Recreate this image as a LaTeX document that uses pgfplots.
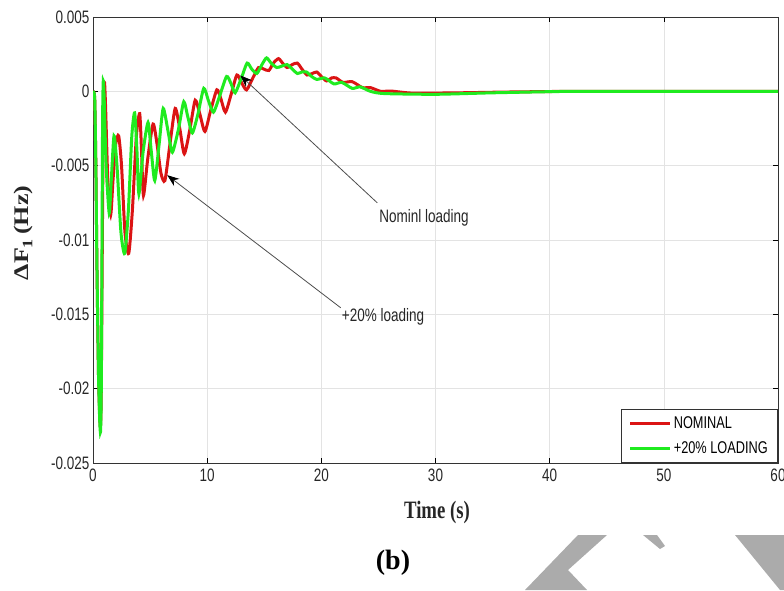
\documentclass[border=0pt]{standalone}
\usepackage{fontspec}
\usepackage{pgfplots}
\pgfplotsset{compat=1.18}
\usetikzlibrary{arrows.meta}
\newfontfamily\condsans{Liberation Sans}[FakeStretch=0.75]
\newfontfamily\condserif{Liberation Serif}[FakeStretch=0.75]
\newfontfamily\serifb{Liberation Serif}
\definecolor{cred}{rgb}{0.86,0.08,0.08}
\definecolor{cgreen}{rgb}{0.12,0.92,0.12}
\definecolor{wm}{rgb}{0.67,0.67,0.67}
\begin{document}
\begin{tikzpicture}[x=1pt,y=1pt]
\begin{axis}[
  at={(93pt,127pt)}, anchor=south west,
  scale only axis, width=685pt, height=446pt,
  xmin=0, xmax=60, ymin=-0.025, ymax=0.005,
  xtick={0,10,20,30,40,50,60},
  xticklabels={0,10,20,30,40,50,60},
  ytick={-0.025,-0.02,-0.015,-0.01,-0.005,0,0.005},
  yticklabels={-0.025,-0.02,-0.015,-0.01,-0.005,0,0.005},
  scaled y ticks=false,
  tick align=inside,
  major tick length=5pt,
  tick style={black, line width=0.6pt},
  ticklabel style={font=\condsans\fontsize{18}{20}\selectfont, text=black!85},
  xticklabel style={yshift=-2pt},
  grid=major,
  grid style={gray!22, line width=0.6pt},
  axis line style={black!80, line width=0.8pt},
  legend style={at={(1,0)}, anchor=south east, draw=black!80, line width=0.6pt,
    font=\condsans\fontsize{17}{19}\selectfont, row sep=7pt, inner xsep=8pt, inner ysep=6pt},
  legend cell align=left,
  legend image code/.code={\draw[#1] (0pt,0pt) -- (40pt,0pt);},
]
\addplot[cred, line width=3pt, smooth, tension=0.4] coordinates {
(0,0)(0.15,-0.0005)(0.25,-0.005)(0.35,-0.012)(0.48,-0.019)(0.6,-0.0221)(0.66,-0.0225)(0.72,-0.0205)(0.8,-0.012)(0.9,-0.002)(1.0,0.0006)(1.1,-0.001)(1.3,-0.006)(1.55,-0.0083)(1.75,-0.006)(2.0,-0.0035)(2.25,-0.0030)(2.5,-0.005)(2.8,-0.0095)(3.13,-0.0109)(3.45,-0.008)(3.8,-0.003)(4.09,-0.0015)(4.25,-0.004)(4.42,-0.0070)(4.8,-0.0045)(5.26,-0.0022)(5.6,-0.0035)(5.95,-0.0055)(6.3,-0.0060)(6.75,-0.0035)(7.2,-0.00115)(7.6,-0.0025)(8.0,-0.0042)(8.5,-0.0025)(8.95,-0.0006)(9.35,-0.0015)(9.8,-0.0027)(10.3,-0.0013)(10.85,0.0001)(11.2,-0.0005)(11.6,-0.0014)(12.1,-0.0002)(12.6,0.0011)(13.0,0.0006)(13.45,0.0001)(14.0,0.0009)(14.5,0.0016)(14.95,0.0015)(15.4,0.0014)(15.8,0.0019)(16.25,0.0022)(16.6,0.0019)(17.0,0.0016)(17.45,0.0018)(17.9,0.0019)(18.3,0.0015)(18.75,0.0011)(19.2,0.0012)(19.6,0.0013)(20.0,0.0010)(20.45,0.0007)(20.9,0.0009)(21.3,0.0009)(21.9,0.0006)(22.7,0.00065)(23.6,0.00025)(24.3,0.00025)(25.2,0.0)(26.1,0.00002)(28,-0.00012)(32,-0.0001)(36,-0.00005)(42,0)(50,0)(60,0)
};
\addlegendentry{NOMINAL}
\addplot[cgreen, line width=3pt, smooth, tension=0.4] coordinates {
(0,0)(0.15,-0.0005)(0.25,-0.005)(0.35,-0.012)(0.48,-0.019)(0.59,-0.0222)(0.66,-0.0229)(0.72,-0.0205)(0.78,-0.012)(0.84,-0.002)(0.9,0.0007)(0.98,-0.0005)(1.15,-0.005)(1.42,-0.0082)(1.6,-0.006)(1.84,-0.003)(2.1,-0.005)(2.45,-0.0095)(2.78,-0.0109)(3.1,-0.008)(3.4,-0.003)(3.65,-0.00145)(3.85,-0.004)(4.02,-0.0069)(4.4,-0.004)(4.82,-0.0021)(5.1,-0.004)(5.41,-0.0060)(5.8,-0.0035)(6.15,-0.00115)(6.6,-0.0028)(6.95,-0.0041)(7.5,-0.0025)(7.95,-0.0007)(8.3,-0.0017)(8.7,-0.0028)(9.2,-0.0015)(9.7,0.0002)(10.1,-0.0006)(10.55,-0.0014)(11.1,-0.0003)(11.7,0.0010)(12.1,0.0005)(12.45,-0.0001)(13.0,0.0009)(13.5,0.0019)(13.9,0.0015)(14.35,0.0012)(14.8,0.0018)(15.2,0.00225)(15.6,0.0019)(16.1,0.0016)(16.55,0.0017)(17.0,0.0018)(17.45,0.0015)(17.9,0.0012)(18.3,0.0013)(18.7,0.0013)(19.15,0.0010)(19.6,0.0008)(20.3,0.0009)(21.1,0.0005)(21.8,0.0006)(22.7,0.0002)(23.4,0.0003)(24.3,0.0)(25.5,-0.00015)(30,-0.0002)(35,-0.0001)(42,0)(50,0)(60,0)
};
\addlegendentry{+20\% LOADING}
\draw[black!70, line width=0.8pt, -{Stealth[length=12pt,width=9pt,black]}] (axis cs:24.9,-0.0075) -- (axis cs:12.9,0.00107);
\draw[black!70, line width=0.8pt, -{Stealth[length=12pt,width=9pt,black]}] (axis cs:21.7,-0.01456) -- (axis cs:6.5,-0.00564);
\node[font=\condsans\fontsize{18}{20}\selectfont, text=black!85] at (axis cs:29.0,-0.0085) {Nominl loading};
\node[font=\condsans\fontsize{18}{20}\selectfont, text=black!85] at (axis cs:25.4,-0.0152) {+20\% loading};
\end{axis}
% axis labels
\node[font=\serifb\bfseries\fontsize{26}{28}\selectfont, rotate=90, text=black!85] at (23pt,357pt) {\scalebox{1}[0.8]{ΔF\raisebox{-0.45ex}{\fontsize{18}{18}\selectfont 1}\,(Hz)}};
\node[font=\condserif\bfseries\fontsize{25}{28}\selectfont, text=black!85] at (437pt,78pt) {Time (s)};
\node[font=\serifb\bfseries\fontsize{28}{30}\selectfont] at (393pt,27pt) {(b)};
% watermark shapes
\fill[wm] (607pt,55pt) -- (568pt,20pt) -- (587pt,0pt) -- (525pt,0pt) -- (578pt,55pt) -- cycle;
\fill[wm] (643pt,55pt) -- (657pt,55pt) -- (665pt,44pt) -- (660pt,41pt) -- cycle;
\fill[wm] (735pt,55pt) -- (784pt,55pt) -- (784pt,0pt) -- (780pt,0pt) -- cycle;
\pgfresetboundingbox
\useasboundingbox (0pt,0pt) rectangle (784pt,590pt);
\end{tikzpicture}
\end{document}
